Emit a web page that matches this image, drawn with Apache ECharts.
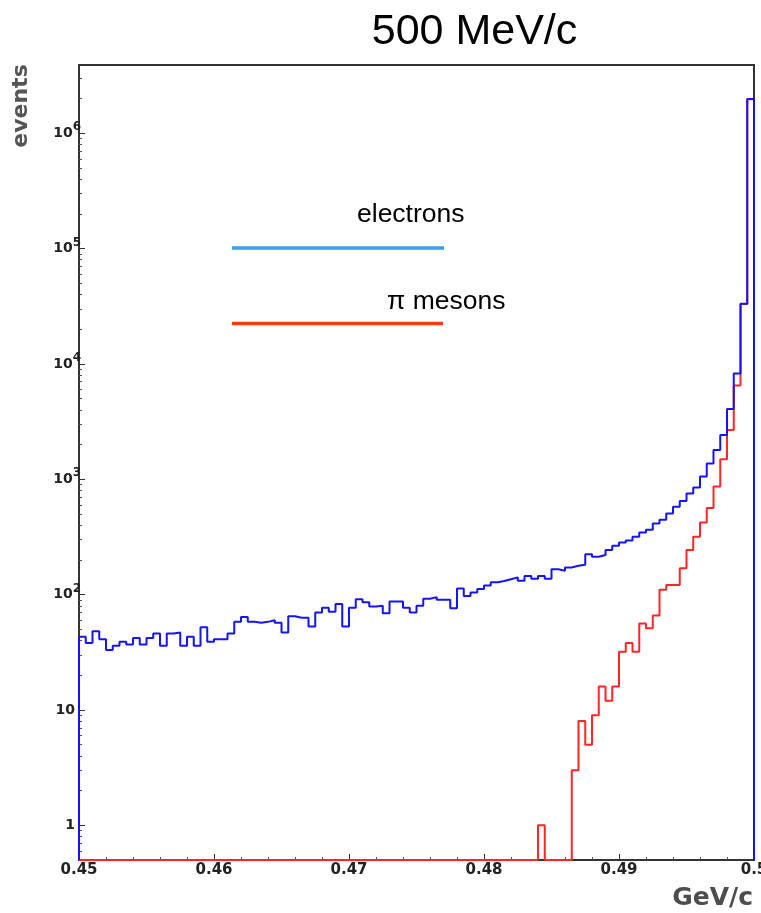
<!DOCTYPE html>
<html>
<head>
<meta charset="utf-8">
<script src="https://cdn.jsdelivr.net/npm/echarts@6/dist/echarts.min.js"></script>
<style>
  html, body { margin: 0; padding: 0; background: #ffffff; }
  #chart { width: 761px; height: 913px; }
</style>
</head>
<body>
<div id="chart"></div>
<script>
// Momentum range of the histogram (GeV/c) and number of equal-width bins
const momentumRange = [0.45, 0.50];
const binCount = 100;

// Electron counts per bin
const electronCounts = [
  43, 38, 48, 41, 33, 36, 39, 37, 42, 37,
  42, 46, 36, 46, 47, 36, 43, 36, 52, 39,
  41, 41, 46, 58, 64, 58, 57, 58, 60, 57,
  47, 65, 63, 63, 53, 70, 77, 71, 83, 53,
  77, 91, 86, 79, 80, 69, 87, 87, 77, 70,
  80, 92, 95, 90, 90, 76, 113, 97, 104, 112,
  120, 128, 131, 136, 141, 132, 145, 137, 145, 137,
  166, 161, 172, 178, 181, 224, 213, 220, 243, 265,
  283, 295, 317, 346, 364, 414, 445, 505, 576, 649,
  752, 848, 1055, 1367, 1794, 2420, 4070, 8270, 33200, 1980000
];

// Pion counts per bin
const pionCounts = [
  0, 0, 0, 0, 0, 0, 0, 0, 0, 0,
  0, 0, 0, 0, 0, 0, 0, 0, 0, 0,
  0, 0, 0, 0, 0, 0, 0, 0, 0, 0,
  0, 0, 0, 0, 0, 0, 0, 0, 0, 0,
  0, 0, 0, 0, 0, 0, 0, 0, 0, 0,
  0, 0, 0, 0, 0, 0, 0, 0, 0, 0,
  0, 0, 0, 0, 0, 0, 0, 0, 1, 0,
  0, 0, 0, 3, 8, 5, 9, 16, 12, 16,
  32, 38, 32, 56, 51, 66, 110, 121, 121, 169,
  244, 317, 422, 564, 864, 1490, 2670, 6510, 33000, 1970000
];

// Axis ticks and labels
const xTickValues = [0.45, 0.46, 0.47, 0.48, 0.49, 0.50];
const xTickLabels = ['0.45', '0.46', '0.47', '0.48', '0.49', '0.5'];
const yDecades = [1, 10, 100, 1000, 10000, 100000, 1000000];
const yPlainLabels = ['1', '10'];
const yPowerExponents = ['2', '3', '4', '5', '6'];
const countRange = [0.5, 3.9e6];

const chart = echarts.init(document.getElementById('chart'), null, { renderer: 'canvas' });

// Step outline of a histogram: closed to the floor at both ends,
// empty bins sit on the floor of the log axis.
function histogramOutline(counts) {
  const lo = momentumRange[0], hi = momentumRange[1];
  const width = (hi - lo) / binCount;
  const floor = countRange[0];
  const pts = [[lo, floor]];
  counts.forEach((c, i) => pts.push([lo + i * width, Math.max(c, floor)]));
  pts.push([hi, Math.max(counts[counts.length - 1], floor)]);
  pts.push([hi, floor]);
  return pts;
}

// Minor tick positions 2..9 within each decade
const yMinorTicks = [];
yDecades.concat([1e-1]).forEach(d => {
  for (let m = 2; m <= 9; m++) {
    const v = d * m;
    if (v > countRange[0] && v < countRange[1]) yMinorTicks.push(v);
  }
});

const labelFont = 'DejaVu Sans';
const axisColor = '#333333';

const baseLogAxis = {
  type: 'log',
  logBase: 10,
  min: countRange[0],
  max: countRange[1],
  position: 'left',
  offset: 0,
  gridIndex: 0,
  splitLine: { show: false },
  minorTick: { show: false },
  minorSplitLine: { show: false }
};

const option = {
  animation: false,
  backgroundColor: '#ffffff',
  grid: {
    left: 79, right: 7, top: 65, bottom: 53,
    show: true,
    borderColor: axisColor,
    borderWidth: 2,
    backgroundColor: 'transparent',
    containLabel: false,
    outerBoundsMode: 'none'
  },
  xAxis: [{
    type: 'value',
    min: momentumRange[0],
    max: momentumRange[1],
    interval: 0.01,
    axisLine: { show: true, onZero: false, lineStyle: { color: axisColor, width: 2 } },
    axisTick: { show: true, inside: true, length: 6, lineStyle: { color: axisColor, width: 1 } },
    minorTick: { show: true, splitNumber: 5, length: 3, lineStyle: { color: '#555555', width: 1 } },
    splitLine: { show: false },
    axisLabel: {
      show: true,
      margin: 3,
      fontFamily: labelFont,
      fontWeight: 'bold',
      fontSize: 15,
      color: '#222222',
      showMinLabel: true,
      showMaxLabel: true,
      hideOverlap: false,
      formatter: v => {
        const i = xTickValues.findIndex(t => Math.abs(t - v) < 1e-9);
        return i >= 0 ? xTickLabels[i] : '';
      }
    }
  }],
  yAxis: [
    Object.assign({}, baseLogAxis, {
      axisLine: { show: true, lineStyle: { color: axisColor, width: 2 } },
      axisTick: { show: true, inside: true, length: 6, customValues: yDecades, lineStyle: { color: axisColor, width: 1 } },
      axisLabel: {
        show: true,
        margin: 4,
        customValues: [1, 10],
        fontFamily: labelFont,
        fontWeight: 'bold',
        fontSize: 14,
        color: '#222222',
        formatter: v => yPlainLabels[Math.round(Math.log10(v))]
      }
    }),
    Object.assign({}, baseLogAxis, {
      axisLine: { show: false },
      axisTick: { show: true, inside: true, length: 3, customValues: yMinorTicks, lineStyle: { color: '#555555', width: 1 } },
      axisLabel: { show: false }
    }),
    Object.assign({}, baseLogAxis, {
      axisLine: { show: false },
      axisTick: { show: false },
      axisLabel: {
        show: true,
        margin: -2,
        customValues: yDecades.slice(2),
        formatter: v => '{b|10}{e|' + yPowerExponents[Math.round(Math.log10(v)) - 2] + '}',
        rich: {
          b: { fontFamily: labelFont, fontWeight: 'bold', fontSize: 14, color: '#222222', verticalAlign: 'bottom', lineHeight: 14 },
          e: { fontFamily: labelFont, fontWeight: 'bold', fontSize: 12, color: '#222222', verticalAlign: 'bottom', lineHeight: 12, padding: [0, 0, 7, 0] }
        }
      }
    })
  ],
  series: [
    {
      name: 'π mesons',
      type: 'line',
      xAxisIndex: 0,
      yAxisIndex: 0,
      step: 'end',
      symbol: 'none',
      showSymbol: false,
      clip: false,
      lineStyle: { color: '#ff2626', width: 2 },
      data: histogramOutline(pionCounts),
      z: 2
    },
    {
      name: 'electrons',
      type: 'line',
      xAxisIndex: 0,
      yAxisIndex: 0,
      step: 'end',
      symbol: 'none',
      showSymbol: false,
      clip: false,
      lineStyle: { color: '#1414f5', width: 2 },
      data: histogramOutline(electronCounts),
      z: 3
    }
  ],
  graphic: [
    {
      type: 'text', x: 474.5, y: 32,
      style: { text: '500 MeV/c', fontFamily: 'Liberation Sans', fontSize: 43, fill: '#000000', align: 'center', verticalAlign: 'middle' }
    },
    {
      type: 'text', x: 21, y: 106, rotation: Math.PI / 2,
      style: { text: 'events', fontFamily: labelFont, fontWeight: 'bold', fontSize: 22, fill: '#555555', align: 'center', verticalAlign: 'middle' }
    },
    {
      type: 'text', x: 753, y: 898,
      style: { text: 'GeV/c', fontFamily: labelFont, fontWeight: 'bold', fontSize: 25, fill: '#4d4d4d', align: 'right', verticalAlign: 'middle' }
    },
    {
      type: 'line',
      shape: { x1: 232, y1: 248, x2: 444, y2: 248 },
      style: { stroke: '#3d9cf2', lineWidth: 3.5 }
    },
    {
      type: 'text', x: 357, y: 215,
      style: { text: 'electrons', fontFamily: 'Liberation Sans', fontSize: 26.5, fill: '#000000', align: 'left', verticalAlign: 'middle' }
    },
    {
      type: 'line',
      shape: { x1: 232, y1: 323.5, x2: 443, y2: 323.5 },
      style: { stroke: '#ff3a0f', lineWidth: 3.5 }
    },
    {
      type: 'text', x: 387, y: 302,
      style: { text: 'π mesons', fontFamily: 'Liberation Sans', fontSize: 26.5, fill: '#000000', align: 'left', verticalAlign: 'middle' }
    }
  ]
};

chart.setOption(option);
</script>
</body>
</html>
